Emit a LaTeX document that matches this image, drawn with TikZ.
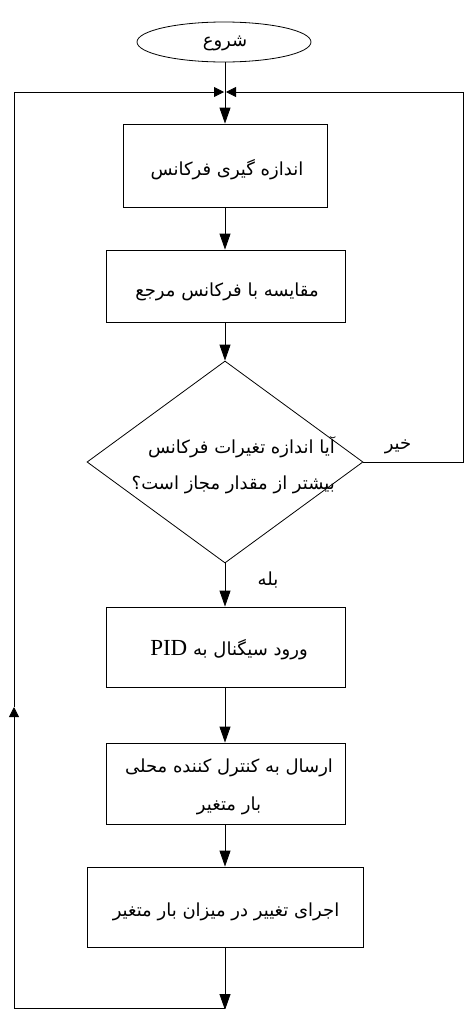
\documentclass[tikz,border=0pt]{standalone}
\usepackage{fontspec}
\setmainfont{Liberation Serif}
\newfontfamily\arabicfont[Script=Arabic]{DejaVu Sans}
\TeXXeTstate=1
\usetikzlibrary{arrows.meta,shapes.geometric}
\tikzset{
  line/.style={line width=0.8pt,draw=black},
  arr/.style={line, -{Triangle[length=16pt,width=11pt]}},
  sarr/.style={line, -{Triangle[length=10pt,width=10pt]}},
  box/.style={line, rectangle, inner sep=0pt},
  txt/.style={font=\arabicfont\fontsize{18}{38}\selectfont, inner sep=0pt, align=center}
}
\begin{document}
\begin{tikzpicture}[x=1pt,y=-1pt]
\useasboundingbox (0,0) rectangle (465,1009);
\coordinate (col) at (225,0);
% shapes
\node[line, ellipse, minimum width=174pt, minimum height=40pt, inner sep=0pt] (start) at (224,42) {};
\node[box, minimum width=204pt, minimum height=83pt] (b1) at (225,165.5) {};
\node[box, minimum width=239pt, minimum height=72pt] (b2) at (225.5,286) {};
\node[line, diamond, minimum width=276pt, minimum height=202pt, inner sep=0pt] (dia) at (225,462) {};
\node[box, minimum width=239pt, minimum height=80pt] (b3) at (225.5,647) {};
\node[box, minimum width=239pt, minimum height=81pt] (b4) at (225.5,783.5) {};
\node[box, minimum width=276pt, minimum height=80pt] (b5) at (225,907) {};
% texts
\node[txt] (tstart) at (225,43) {\beginR شروع\endR};
\node[txt] (t1) at (227,170) {\beginR اندازه گیری فرکانس\endR};
\node[txt] (t2) at (227,292) {\beginR مقایسه با فرکانس مرجع\endR};
\node[txt, align=right, anchor=east, font=\arabicfont\fontsize{18}{36}\selectfont] (tdia) at (335,465) {\beginR آیا اندازه تغیرات فرکانس\endR\\ \beginR بیشتر  از مقدار مجاز  است؟\endR};
\node[txt] (t3) at (229,650) {\beginR ورود سیگنال به {\rmfamily\fontsize{23}{26}\selectfont\beginL PID\endL}\endR};
\node[txt] (t4) at (229,787) {\beginR ارسال به کنترل کننده محلی\endR\\ \beginR بار متغیر\endR};
\node[txt] (t5) at (226,912) {\beginR اجرای تغییر در میزان بار متغیر\endR};
\node[txt] (no) at (398,447) {\beginR خیر\endR};
\node[txt] (yes) at (268,580) {\beginR بله\endR};
% connectors
\coordinate (j) at (225,92);
\coordinate (tl) at (14,92);
\coordinate (tr) at (463,92);
\coordinate (mr) at (463,462);
\coordinate (la) at (14,707);
\coordinate (bl) at (14,1008.5);
\coordinate (bb) at (225,1010);
\draw[arr] (start.south -| col) -- (b1.north -| col);
\draw[arr] (b1.south -| col) -- (b2.north -| col);
\draw[arr] (b2.south -| col) -- (dia.north);
\draw[arr] (dia.south) -- (b3.north -| col);
\draw[arr] (b3.south -| col) -- (b4.north -| col);
\draw[arr] (b4.south -| col) -- (b5.north -| col);
\draw[arr] (b5.south -| col) -- (bb);
\draw[line] (bb |- bl) -- (bl);
\draw[sarr] (bl) -- (la);
\draw[line] (la) -- (tl);
\draw[sarr] (tl) -- ([xshift=-1pt]j);
\draw[line] (dia.east) -- (mr) -- (tr);
\draw[sarr] (tr) -- ([xshift=1pt]j);
\end{tikzpicture}
\end{document}
